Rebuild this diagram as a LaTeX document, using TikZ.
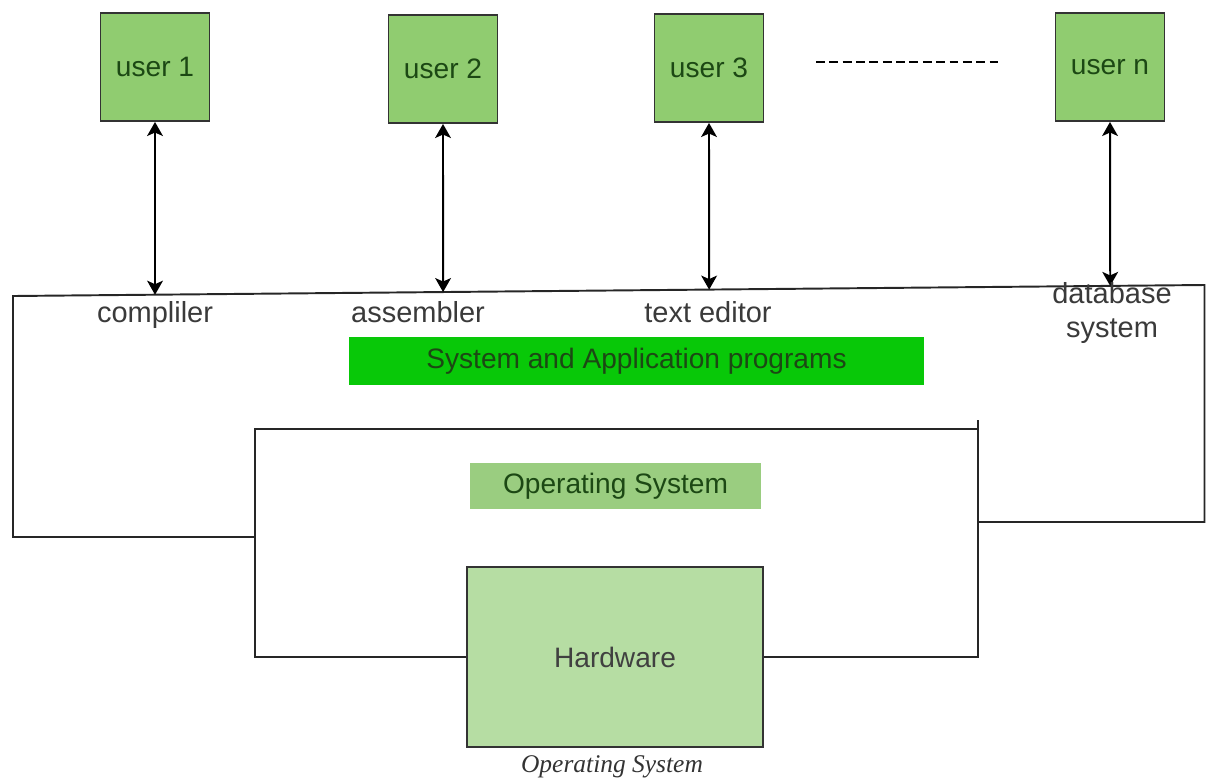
\documentclass[tikz,border=0pt]{standalone}
\usepackage{fontspec}
\setmainfont{Liberation Sans}
\newfontfamily\capfont{Liberation Serif}
\usetikzlibrary{arrows.meta}

\definecolor{usergreen}{RGB}{144,204,112}
\definecolor{sapgreen}{RGB}{8,200,8}
\definecolor{osgreen}{RGB}{154,205,128}
\definecolor{hwgreen}{RGB}{182,221,163}
\definecolor{darkgreen}{RGB}{28,72,20}
\definecolor{labelgray}{RGB}{58,58,58}

\tikzset{
  userbox/.style={draw=black!80, line width=1.1pt, fill=usergreen, text=darkgreen,
    minimum width=2.18cm, minimum height=2.16cm, inner sep=0pt,
    font=\fontsize{16}{18.8}\selectfont},
  layerbox/.style={inner sep=0pt, text=darkgreen, font=\fontsize{16}{18.8}\selectfont},
  progname/.style={text=labelgray, inner sep=0pt, align=center,
    font=\fontsize{16.5}{18.8}\selectfont},
  frame/.style={line width=1.1pt, draw=black!85},
  link/.style={{Stealth[length=8pt,width=9pt,inset=2pt]}-{Stealth[length=8pt,width=9pt,inset=2pt]},
    line width=1.1pt},
}

\begin{document}
\begin{tikzpicture}[x=0.02cm, y=-0.02cm]
  \useasboundingbox (0,0) rectangle (1206,778);

  % users
  \node[userbox] (u1) at (155,67) {user 1};
  \node[userbox] (u2) at (443,69) {user 2};
  \node[userbox] (u3) at (709,68) {user 3};
  \node[userbox] (un) at (1110,67) {user n};
  \draw[line width=1pt, dash pattern=on 5pt off 2.6pt] (816,62) -- (1002,62);

  % outer frame: system and application programs
  \coordinate (tl) at (13,296);
  \coordinate (tr) at (1204.5,285);
  \draw[frame] (255,537) -- (13,537) -- (tl) -- (tr) -- (1204.5,522) -- (978,522);

  \draw[link] (u1.south) -- (intersection of u1.south--u1.center and tl--tr);
  \draw[link] (u2.south) -- (intersection of u2.south--u2.center and tl--tr);
  \draw[link] (u3.south) -- (intersection of u3.south--u3.center and tl--tr);
  \draw[link] (un.south) -- (intersection of un.south--un.center and tl--tr);

  \node[progname, anchor=base] (cmp) at (155,322) {compliler};
  \node[progname, anchor=base] (asm) at (418,322) {assembler};
  \node[progname, anchor=base] (ed) at (708,322) {text editor};
  \node[progname] (db) at (1112,313) {database\\system};

  \node[layerbox, fill=sapgreen, minimum width=11.5cm, minimum height=0.96cm] (sap) at (636.5,361)
    {System and Application programs};

  % inner frame: operating system
  \node[layerbox, fill=osgreen, minimum width=5.82cm, minimum height=0.92cm] (os) at (615.5,486)
    {Operating System};
  \node[layerbox, draw=black!80, line width=1.1pt, fill=hwgreen, text=black!75,
    minimum width=5.92cm, minimum height=3.6cm] (hw) at (615,657) {Hardware};
  \draw[frame] (hw.west) -- (255,657) -- (255,429) -- (978,429);
  \draw[frame] (978,420) -- (978,657) -- (hw.east);

  \node[font=\capfont\itshape\fontsize{14.5}{16}\selectfont, text=black!80, anchor=base, inner sep=0pt]
    (cap) at (612,772) {Operating System};
\end{tikzpicture}
\end{document}
